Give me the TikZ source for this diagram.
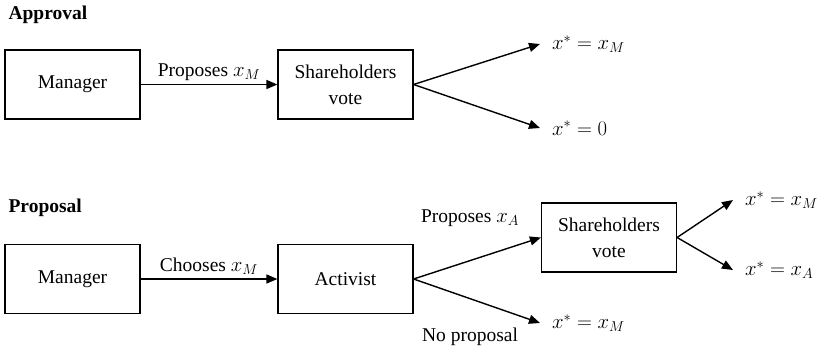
\documentclass[tikz,border=0pt]{standalone}
\usepackage{fontspec}
\setmainfont{Liberation Serif}
\usepackage{tikz}
\usetikzlibrary{
  positioning,
  arrows.meta
}

\begin{document}
\begin{tikzpicture}[x=1pt,y=-1pt,
    font=\fontsize{19.5}{26}\selectfont,
    box/.style={draw,line width=1.2pt,minimum width=135pt,minimum height=69pt,align=center,inner sep=2pt},
    res/.style={anchor=west,inner sep=2pt,outer sep=10pt},
    arr/.style={->,>={Stealth[length=11pt,width=9pt,inset=0pt]},line width=1.4pt}]
  \useasboundingbox (0,0) rectangle (818,351);

  % 承認の場合
  \node[anchor=west,font=\fontsize{19.5}{26}\selectfont\bfseries] (apprTitle) at (5,15) {Approval};
  \node[box] (mgrA) at (72.5,84.5) {Manager};
  \node[box] (voteA) at (345.5,84.5) {Shareholders\\vote};
  \node[res] (outA1) at (540,44) {$x^* = x_M$};
  \node[res] (outA2) at (540,128) {$x^* = 0$};
  \draw[arr] (mgrA.east)--(voteA.west)node[midway,above]{Proposes $x_M$};
  \draw[arr] (voteA.east)--(outA1.west);
  \draw[arr] (voteA.east)--(outA2.west);

  % 提案の場合
  \node[anchor=west,font=\fontsize{19.5}{26}\selectfont\bfseries] (propTitle) at (5,208) {Proposal};
  \node[box] (mgrP) at (72.5,279) {Manager};
  \node[box] (activist) at (345.5,279) {Activist};
  \node[box] (voteP) at (609,237.5) {Shareholders\\vote};
  \node[res] (outP1) at (540,323) {$x^* = x_M$};
  \node[res] (outP2) at (733,200) {$x^* = x_M$};
  \node[res] (outP3) at (733,270) {$x^* = x_A$};
  \draw[arr] (mgrP.east)--(activist.west)node[midway,above]{Chooses $x_M$};
  \draw[arr] (activist.east)--(voteP.west);
  \draw[arr] (activist.east)--(outP1.west);
  \draw[arr] (voteP.east)--(outP2.west);
  \draw[arr] (voteP.east)--(outP3.west);
  % 枝のラベル
  \node (propA) at (470,218) {Proposes $x_A$};
  \node (noProp) at (470,337) {No proposal};
\end{tikzpicture}
\end{document}
